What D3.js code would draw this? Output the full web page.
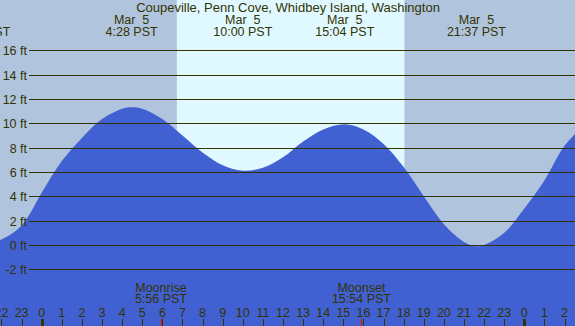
<!DOCTYPE html>
<html>
<head>
<meta charset="utf-8">
<script src="https://cdn.jsdelivr.net/npm/d3@7"></script>
<style>
body { margin: 0; overflow: hidden; background: #fff; }
text { font-family: "Liberation Sans", Arial, sans-serif; font-size: 12.5px; fill: #333300; white-space: pre; }
</style>
</head>
<body>
<div id="chart"></div>
<script>
// tide heights (hours from midnight Mar 5, feet)
var tideHours = [-3.03, -2, -1, 0, 1, 2, 3, 4, 4.47, 5, 6, 7, 8, 9, 10, 11, 12, 13, 14, 15.07, 16, 17, 18, 19, 20, 21, 21.62, 22, 23, 24, 25, 26, 27];
var tideFeet  = [0.0, 0.45, 1.6, 4.3, 6.9, 8.8, 10.35, 11.2, 11.32, 11.2, 10.35, 9.0, 7.6, 6.55, 6.1, 6.35, 7.2, 8.5, 9.5, 9.93, 9.5, 8.3, 6.4, 4.0, 1.7, 0.25, -0.11, 0.0, 1.0, 3.0, 5.3, 8.15, 9.9];

// high / low labels
var eventHours = [-3.03, 4.47, 10.0, 15.07, 21.62];
var eventDates = ["Mar  4", "Mar  5", "Mar  5", "Mar  5", "Mar  5"];
var eventTimes = ["20:58 PST", "4:28 PST", "10:00 PST", "15:04 PST", "21:37 PST"];

// moon
var moonHours = [5.93, 15.9];
var moonNames = ["Moonrise", "Moonset"];
var moonTimes = ["5:56 PST", "15:54 PST"];

// daylight (sunrise, sunset)
var dayStart = 6.72, dayEnd = 18.04;

var yTicks = [-2, 0, 2, 4, 6, 8, 10, 12, 14, 16];
var hourTicks = d3.range(-2, 27);

var title = "Coupeville, Penn Cove, Whidbey Island, Washington";

var width = 575, height = 326;

var svg = d3.select("#chart")
  .append("svg")
    .attr("width", width)
    .attr("height", height);

var x = d3.scaleLinear().domain([-2.074, 26.52]).range([0, width]);
var y = d3.scaleLinear().domain([-2, 16]).range([269.3, 50.3]);

// night + day backgrounds
svg.append("rect")
  .attr("width", width).attr("height", height)
  .attr("fill", "#b0c4de");
svg.append("rect")
  .attr("x", x(dayStart)).attr("y", 0)
  .attr("width", x(dayEnd) - x(dayStart)).attr("height", height)
  .attr("fill", "#e0f8ff");

// water
var tide = tideHours.map(function(h, i) { return [h, tideFeet[i]]; });
var area = d3.area()
  .x(function(d) { return x(d[0]); })
  .y0(height)
  .y1(function(d) { return y(d[1]); })
  .curve(d3.curveCatmullRom.alpha(0.5));
svg.append("path")
  .datum(tide)
  .attr("d", area)
  .attr("fill", "#4161d3");

// gridlines + labels
svg.selectAll("line.grid")
  .data(yTicks)
  .enter()
  .append("line")
    .attr("class", "grid")
    .attr("x1", 29).attr("x2", width)
    .attr("y1", function(d) { return Math.round(y(d)) + 0.5; })
    .attr("y2", function(d) { return Math.round(y(d)) + 0.5; })
    .attr("stroke", "#333300")
    .attr("stroke-width", 1);
svg.selectAll("text.ylab")
  .data(yTicks)
  .enter()
  .append("text")
    .attr("class", "ylab")
    .attr("x", 27)
    .attr("y", function(d) { return Math.round(y(d)) + 4.5; })
    .attr("text-anchor", "end")
    .text(function(d) { return d + " ft"; });

// title
svg.append("text")
  .attr("x", 288).attr("y", 12)
  .attr("text-anchor", "middle")
  .style("font-size", "13px")
  .text(title);

// high/low times
eventHours.forEach(function(h, i) {
  svg.append("text")
    .attr("x", x(h)).attr("y", 24)
    .attr("text-anchor", "middle")
    .text(eventDates[i]);
  svg.append("text")
    .attr("x", x(h)).attr("y", 36)
    .attr("text-anchor", "middle")
    .text(eventTimes[i]);
});

// moon rise/set
moonHours.forEach(function(h, i) {
  svg.append("text")
    .attr("x", x(h)).attr("y", 291.5)
    .attr("text-anchor", "middle")
    .text(moonNames[i]);
  svg.append("text")
    .attr("x", x(h)).attr("y", 303)
    .attr("text-anchor", "middle")
    .text(moonTimes[i]);
});

// hour axis
svg.selectAll("text.hour")
  .data(hourTicks)
  .enter()
  .append("text")
    .attr("class", "hour")
    .attr("x", function(d) { return x(d); })
    .attr("y", 316.5)
    .attr("text-anchor", "middle")
    .text(function(d) { return ((d % 24) + 24) % 24; });
svg.selectAll("line.hour")
  .data(hourTicks)
  .enter()
  .append("line")
    .attr("class", "hour")
    .attr("x1", function(d) { return Math.round(x(d)) + 0.5; })
    .attr("x2", function(d) { return Math.round(x(d)) + 0.5; })
    .attr("y1", 319).attr("y2", height)
    .attr("stroke", "#333300")
    .attr("stroke-width", function(d) { return d % 24 === 0 ? 3 : 1; });
svg.selectAll("line.moon")
  .data(moonHours)
  .enter()
  .append("line")
    .attr("class", "moon")
    .attr("x1", function(d) { return Math.round(x(d)) + 0.5; })
    .attr("x2", function(d) { return Math.round(x(d)) + 0.5; })
    .attr("y1", 319).attr("y2", height)
    .attr("stroke", "#ff0000")
    .attr("stroke-width", 1);
</script>
</body>
</html>
